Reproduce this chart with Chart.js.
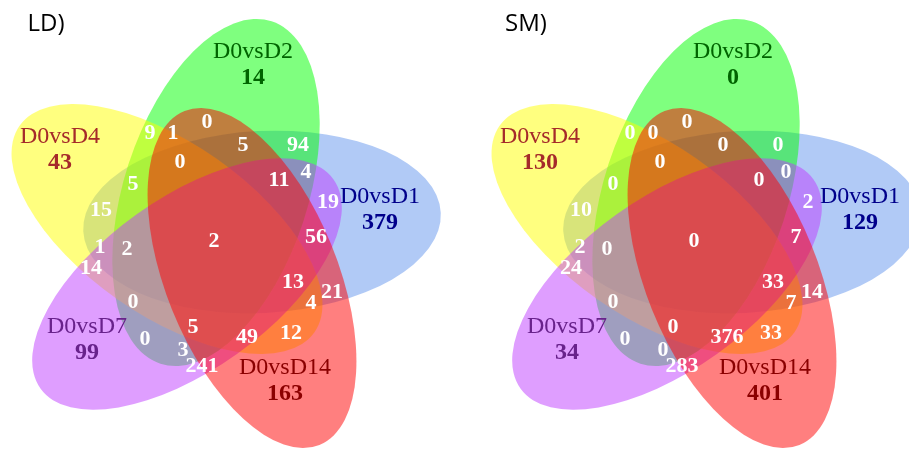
<!DOCTYPE html>
<html>
<head>
<meta charset="utf-8">
<script src="https://cdn.jsdelivr.net/npm/chart.js@4.4.1/dist/chart.umd.min.js"></script>
<style>
  html, body { margin: 0; padding: 0; background: #fff; }
  #wrap { width: 909px; height: 449px; }
</style>
</head>
<body>
<div id="wrap"><canvas id="venn"></canvas></div>
<script>
// panel titles and set names
const panelTitles = ['LD)', 'SM)'];
const setNames = ['D0vsD1', 'D0vsD2', 'D0vsD4', 'D0vsD7', 'D0vsD14'];

// counts unique to one set (same order as setNames)
const ldUnique = [379, 14, 43, 99, 163];
const smUnique = [129, 0, 130, 34, 401];

// counts of the overlap regions (same order as regionAnchors below)
const ldOverlap = [9, 1, 0, 5, 94, 0, 4, 11, 5, 19, 15, 56, 2, 1, 2, 14, 13, 21, 0, 4, 5, 49, 12, 0, 3, 241];
const smOverlap = [0, 0, 0, 0, 0, 0, 0, 0, 0, 2, 10, 7, 0, 2, 0, 24, 33, 14, 0, 7, 0, 376, 33, 0, 0, 283];

// ---- layout (diagram units, one panel) ----
const panelOffset = [0, 480];
const ellipses = [
  { cx: 262, cy: 222, a: 179, b: 91, rot: 177, fill: 'rgba(100,149,237,0.5)', ink: '#00008B' },
  { cx: 216, cy: 192.5, a: 180, b: 92, rot: 108, fill: 'rgba(0,255,0,0.5)', ink: '#006400' },
  { cx: 167, cy: 229, a: 180, b: 86, rot: 35, fill: 'rgba(255,255,0,0.5)', ink: '#A52A2A' },
  { cx: 187, cy: 284, a: 180, b: 86, rot: 144.5, fill: 'rgba(191,62,255,0.5)', ink: '#68228B' },
  { cx: 252, cy: 278, a: 180, b: 86, rot: 68, fill: 'rgba(255,0,0,0.5)', ink: '#8B0000' }
];
const nameAnchors = [[380, 197], [253, 52], [60, 137], [87, 327], [285, 368]];
const regionAnchors = [
  [150, 133], [173, 133], [207, 122], [243, 145], [298, 145], [180, 162], [306, 172],
  [279, 180], [133, 184], [328, 202], [101, 210], [316, 237], [214, 241], [100, 247],
  [127, 249], [91, 268], [293, 282], [332, 292], [133, 302], [311, 303], [193, 327],
  [247, 337], [291, 333], [145, 339], [183, 350], [202, 366]
];

const uniques = [ldUnique, smUnique];
const overlaps = [ldOverlap, smOverlap];

const datasets = [];
panelTitles.forEach((title, p) => {
  const dx = panelOffset[p];
  datasets.push({
    kind: 'region',
    data: regionAnchors.map((pt, i) => ({ x: pt[0] + dx, y: pt[1], txt: String(overlaps[p][i]) }))
  });
  datasets.push({
    kind: 'name',
    data: nameAnchors.map((pt, i) => ({ x: pt[0] + dx, y: pt[1], txt: setNames[i], ink: ellipses[i].ink }))
  });
  datasets.push({
    kind: 'unique',
    data: nameAnchors.map((pt, i) => ({ x: pt[0] + dx, y: pt[1] + 26, txt: String(uniques[p][i]), ink: ellipses[i].ink }))
  });
  datasets.push({
    kind: 'title',
    data: [{ x: 46 + dx, y: 24, txt: title }]
  });
});
datasets.forEach(ds => { ds.pointRadius = 0; ds.pointHoverRadius = 0; });

const vennPlugin = {
  id: 'venn',
  beforeDatasetsDraw(chart) {
    const { ctx, scales: { x, y } } = chart;
    panelOffset.forEach(dx => {
      ellipses.forEach(e => {
        const px = x.getPixelForValue(e.cx + dx);
        const py = y.getPixelForValue(e.cy);
        const rx = Math.abs(x.getPixelForValue(e.a) - x.getPixelForValue(0));
        const ry = Math.abs(y.getPixelForValue(e.b) - y.getPixelForValue(0));
        ctx.save();
        ctx.beginPath();
        ctx.ellipse(px, py, rx, ry, e.rot * Math.PI / 180, 0, Math.PI * 2);
        ctx.fillStyle = e.fill;
        ctx.fill();
        ctx.restore();
      });
    });
  },
  afterDatasetsDraw(chart) {
    const { ctx } = chart;
    chart.data.datasets.forEach((ds, di) => {
      const meta = chart.getDatasetMeta(di);
      ctx.save();
      ctx.textAlign = 'center';
      ctx.textBaseline = 'middle';
      if (ds.kind === 'region') {
        ctx.font = 'bold 22px "Liberation Serif", "DejaVu Serif", serif';
        ctx.fillStyle = '#ffffff';
      } else if (ds.kind === 'name') {
        ctx.font = '24px "Liberation Serif", "DejaVu Serif", serif';
      } else if (ds.kind === 'unique') {
        ctx.font = 'bold 24px "Liberation Serif", "DejaVu Serif", serif';
      } else {
        ctx.font = '24px "Open Sans", "Liberation Sans", sans-serif';
        ctx.fillStyle = '#000000';
      }
      meta.data.forEach((el, i) => {
        const d = ds.data[i];
        if (d.ink) ctx.fillStyle = d.ink;
        ctx.fillText(d.txt, el.x, el.y);
      });
      ctx.restore();
    });
  }
};

new Chart(document.getElementById('venn'), {
  type: 'scatter',
  data: { datasets },
  options: {
    responsive: true,
    maintainAspectRatio: false,
    animation: false,
    events: [],
    layout: { padding: 0 },
    plugins: { legend: { display: false }, tooltip: { enabled: false } },
    scales: {
      x: { type: 'linear', min: 0, max: 909, display: false },
      y: { type: 'linear', min: 0, max: 449, reverse: true, display: false }
    }
  },
  plugins: [vennPlugin]
});
</script>
</body>
</html>
